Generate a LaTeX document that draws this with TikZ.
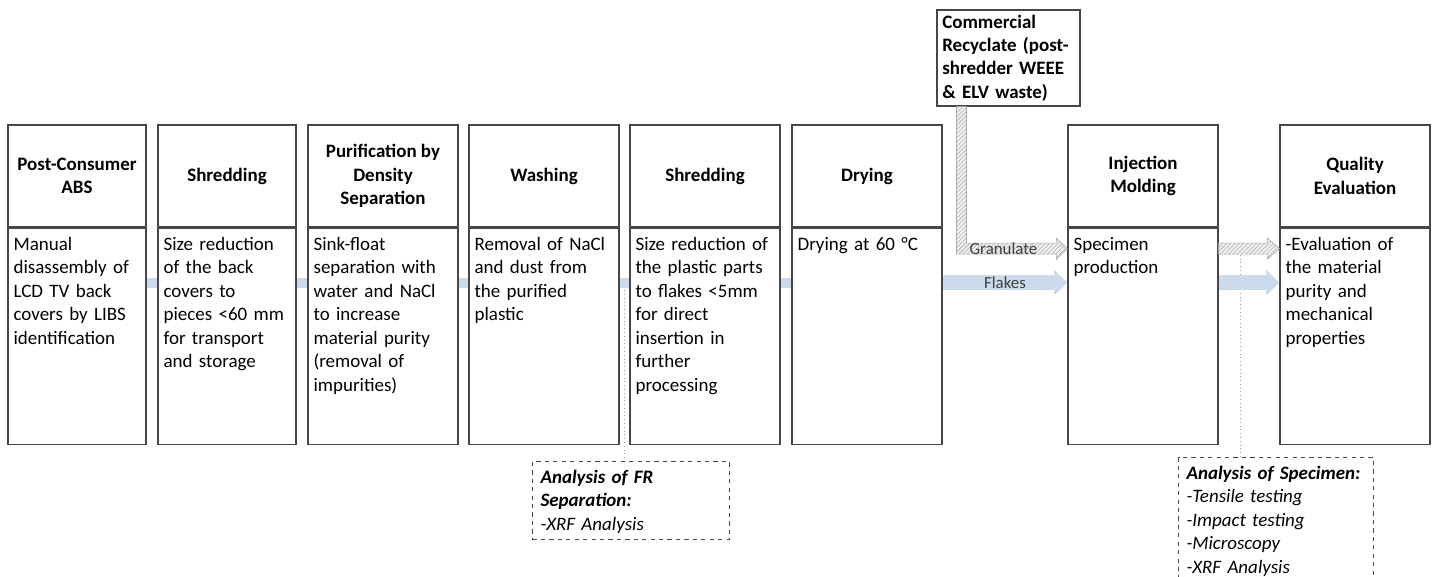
\documentclass[tikz,border=0pt]{standalone}
\usepackage{fontspec}
\setmainfont{Carlito}
\usepackage{tikz}
\usetikzlibrary{positioning, arrows.meta, patterns, calc}

\definecolor{flowblue}{RGB}{204,218,235}
\definecolor{boxline}{RGB}{70,70,70}
\newcommand{\stagefont}{\fontsize{13.5pt}{16.7pt}\selectfont}

\begin{document}
\begin{tikzpicture}[font=\stagefont,
    stagehead/.style={draw=boxline, line width=0.9pt, fill=white, minimum width=#1, minimum height=2.55cm, inner xsep=0.1cm, align=center, font=\stagefont\bfseries},
    stagebody/.style={draw=boxline, line width=0.9pt, fill=white, anchor=north, align=left, text width=#1, inner xsep=0.14cm, inner ysep=0.2cm, text height=0.35cm, text depth=4.65cm},
    band/.style={flowblue, line width=0.25cm},
    flowarrow/.style={flowblue, line width=0.37cm, -{Triangle[width=0.62cm, length=0.33cm]}},
    hatched/.style={draw=gray!65, line width=0.5pt, pattern=north east lines, pattern color=gray!60, preaction={fill=gray!12}},
    analysis/.style={draw=boxline, dashed, line width=0.7pt, fill=white, anchor=north west, align=left, inner xsep=0.2cm, inner ysep=0.2cm, text height=0.35cm},
    dotline/.style={gray!75, dotted, line width=0.7pt},
    flowlabel/.style={font=\fontsize{12pt}{14pt}\selectfont, text=black!75}]
    \useasboundingbox (0,0) rectangle (35.8,-14.4);

    % Process stages: title box with description below
    \node[stagehead=3.45cm] (pc) at (1.925,-4.4) {Post-Consumer\\ABS};
    \node[stagebody=3.17cm] (pc-b) at (pc.south) {Manual\\disassembly of\\LCD TV back\\covers by LIBS\\identification};

    \node[stagehead=3.45cm] (shred) at (5.675,-4.4) {Shredding};
    \node[stagebody=3.17cm] (shred-b) at (shred.south) {Size reduction\\of the back\\covers to\\pieces <60 mm\\for transport\\and storage};

    \node[stagehead=3.75cm] (purif) at (9.575,-4.4) {Purification by\\Density\\Separation};
    \node[stagebody=3.47cm] (purif-b) at (purif.south) {Sink-float\\separation with\\water and NaCl\\to increase\\material purity\\(removal of\\impurities)};

    \node[stagehead=3.75cm] (wash) at (13.6,-4.4) {Washing};
    \node[stagebody=3.47cm] (wash-b) at (wash.south) {Removal of NaCl\\and dust from\\the purified\\plastic};

    \node[stagehead=3.75cm] (flake) at (17.625,-4.4) {Shredding};
    \node[stagebody=3.47cm] (flake-b) at (flake.south) {Size reduction of\\the plastic parts\\to flakes <5mm\\for direct\\insertion in\\further\\processing};

    \node[stagehead=3.75cm] (dry) at (21.675,-4.4) {Drying};
    \node[stagebody=3.47cm] (dry-b) at (dry.south) {Drying at 60 °C};

    \node[stagehead=3.75cm] (inj) at (28.575,-4.4) {Injection\\Molding};
    \node[stagebody=3.47cm] (inj-b) at (inj.south) {Specimen\\production};

    \node[stagehead=3.75cm] (qual) at (33.875,-4.4) {Quality\\Evaluation};
    \node[stagebody=3.47cm] (qual-b) at (qual.south) {-Evaluation of\\the material\\purity and\\mechanical\\properties};

    % Second input
    \node[draw=boxline, line width=0.9pt, fill=white, align=left, text width=3.31cm, inner xsep=0.13cm, minimum height=2.3cm, font=\stagefont\bfseries] (recyc) at (25.2125,-1.45) {Commercial\\Recyclate (post-\\shredder WEEE\\\& ELV waste)};

    % Analysis boxes
    \node[analysis, text width=4.525cm, text depth=1.2cm] (fr) at (13.3,-11.525) {\textbf{\textit{Analysis of FR}}\\\textbf{\textit{Separation:}}\\\textit{-XRF Analysis}};
    \node[analysis, text width=4.475cm, text depth=3cm] (spec) at (29.45,-11.425) {\textbf{\textit{Analysis of Specimen:}}\\\textit{-Tensile testing}\\\textit{-Impact testing}\\\textit{-Microscopy}\\\textit{-XRF Analysis}};

    % Dotted links to the analyses
    \coordinate (wf) at ($(wash-b.north east)!0.5!(flake-b.north west)+(0,-1.375)$);
    \draw[dotline] (wf) -- (wf |- fr.north);
    \coordinate (qs) at ([yshift=-0.525cm]inj-b.north east);
    \coordinate (qt) at ([yshift=-0.525cm]qual-b.north west);
    \coordinate (sp) at ([xshift=-0.89cm]spec.north);
    \draw[dotline] (sp) -- (sp |- qs);

    % Material flow of the post-consumer route
    \foreach \a/\b in {pc/shred, shred/purif, purif/wash, wash/flake, flake/dry}
        \draw[band] ([yshift=-1.375cm]\a-b.north east) -- ([yshift=-1.375cm]\b-b.north west);
    \draw[flowarrow] ([yshift=-1.375cm]dry-b.north east) -- node[flowlabel] (flakes) {Flakes} ([yshift=-1.375cm]inj-b.north west);
    \draw[flowarrow] ([yshift=-1.375cm]inj-b.north east) -- ([yshift=-1.375cm]qual-b.north west);

    % Granulate route
    \coordinate (gtop) at ([xshift=0.625cm]recyc.south west);
    \coordinate (gtip) at ([yshift=-0.525cm]inj-b.north west);
    \filldraw[hatched] ([xshift=-1.25mm]gtop) |- ([shift={(-2.75mm,-1.375mm)}]gtip) -- ++(0,-1.25mm) -- (gtip) -- ++(-2.75mm,2.625mm) -- ++(0,-1.25mm) -| ([xshift=1.25mm]gtop) -- cycle;
    \node[flowlabel] (gran) at ([xshift=-1.6cm]gtip) {Granulate};
    \filldraw[hatched] ([yshift=1.375mm]qs) -- ([shift={(-3mm,1.375mm)}]qt) -- ++(0,1.25mm) -- (qt) -- ++(-3mm,-2.625mm) -- ++(0,1.25mm) -- ([yshift=-1.375mm]qs) -- cycle;
\end{tikzpicture}
\end{document}
